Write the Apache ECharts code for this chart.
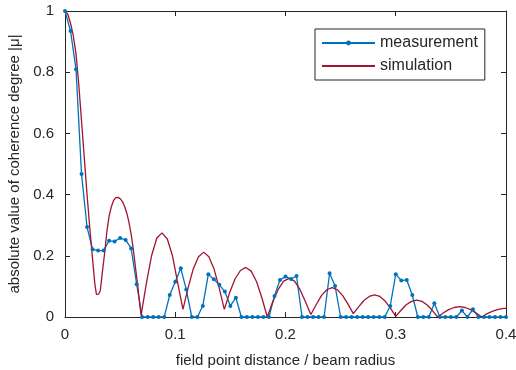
<!DOCTYPE html>
<html>
<head>
<meta charset="utf-8">
<script src="https://cdn.jsdelivr.net/npm/echarts@6/dist/echarts.min.js"></script>
<style>
  html, body { margin: 0; padding: 0; background: #fff; }
  #chart { width: 516px; height: 370px; }
</style>
</head>
<body>
<div id="chart"></div>
<script>
// measurement samples (field point distance / beam radius)
const measX = [
  0, 0.005, 0.01, 0.015, 0.02, 0.025, 0.03, 0.035, 0.04, 0.045,
  0.05, 0.055, 0.06, 0.065, 0.07, 0.075, 0.08, 0.085, 0.09, 0.095,
  0.1, 0.105, 0.11, 0.115, 0.12, 0.125, 0.13, 0.135, 0.14, 0.145,
  0.15, 0.155, 0.16, 0.165, 0.17, 0.175, 0.18, 0.185, 0.19, 0.195,
  0.2, 0.205, 0.21, 0.215, 0.22, 0.225, 0.23, 0.235, 0.24, 0.245,
  0.25, 0.255, 0.26, 0.265, 0.27, 0.275, 0.28, 0.285, 0.29, 0.295,
  0.3, 0.305, 0.31, 0.315, 0.32, 0.325, 0.33, 0.335, 0.34, 0.345,
  0.35, 0.355, 0.36, 0.365, 0.37, 0.375, 0.38, 0.385, 0.39, 0.395,
  0.4
];
const measY = [
  1.0, 0.935, 0.81, 0.467, 0.294, 0.221, 0.217, 0.217, 0.249, 0.247,
  0.258, 0.252, 0.224, 0.107, 0, 0, 0, 0, 0, 0.072,
  0.115, 0.159, 0.09, 0, 0, 0.036, 0.14, 0.123, 0.105, 0.083,
  0.036, 0.063, 0, 0, 0, 0, 0, 0, 0.069, 0.121,
  0.132, 0.124, 0.134, 0, 0, 0, 0, 0, 0.143, 0.101,
  0, 0, 0, 0, 0, 0, 0, 0, 0, 0.036,
  0.14, 0.119, 0.121, 0.072, 0, 0, 0, 0.045, 0, 0,
  0, 0, 0.021, 0, 0.025, 0, 0, 0, 0, 0,
  0
];

// simulated curve
const simX = [
  0, 0.0025, 0.005, 0.0075, 0.01, 0.0125, 0.015, 0.0175, 0.02, 0.0225, 0.025, 0.027, 0.0285, 0.0305, 0.032,
  0.034, 0.036, 0.038, 0.04, 0.042, 0.044, 0.046, 0.048, 0.05, 0.052, 0.054, 0.056, 0.058, 0.06, 0.062, 0.064, 0.066, 0.068, 0.069,
  0.0738, 0.0785, 0.0833, 0.088, 0.0928, 0.0975, 0.1023, 0.107,
  0.1117, 0.1164, 0.1211, 0.1258, 0.1305, 0.1351, 0.1398, 0.1445,
  0.1494, 0.1543, 0.1591, 0.164, 0.1689, 0.1738, 0.1786, 0.1835,
  0.1884, 0.1934, 0.1983, 0.2033, 0.2082, 0.2131, 0.2181, 0.223,
  0.2278, 0.2326, 0.2374, 0.2423, 0.2471, 0.2519, 0.2567, 0.2615,
  0.2663, 0.2711, 0.2759, 0.2808, 0.2856, 0.2904, 0.2952, 0.3,
  0.3048, 0.3095, 0.3143, 0.319, 0.3238, 0.3285, 0.3333, 0.338,
  0.343, 0.348, 0.353, 0.358, 0.363, 0.368, 0.373, 0.378,
  0.383, 0.388, 0.393, 0.398, 0.4
];
const simY = [
  1.0, 0.99, 0.96, 0.92, 0.86, 0.76, 0.64, 0.52, 0.40, 0.29, 0.19, 0.11, 0.074, 0.075, 0.086,
  0.15, 0.21, 0.28, 0.33, 0.36, 0.38, 0.39, 0.391, 0.387, 0.378, 0.362, 0.34, 0.31, 0.27, 0.22, 0.16, 0.1, 0.035, 0.005,
  0.11, 0.2, 0.258, 0.275, 0.255, 0.2, 0.11, 0.025,
  0.096, 0.158, 0.197, 0.212, 0.197, 0.158, 0.096, 0.025,
  0.08, 0.125, 0.152, 0.162, 0.15, 0.115, 0.062, 0.0,
  0.05, 0.09, 0.117, 0.126, 0.117, 0.09, 0.05, 0.008,
  0.04, 0.07, 0.089, 0.096, 0.089, 0.07, 0.042, 0.011,
  0.033, 0.054, 0.067, 0.072, 0.067, 0.052, 0.029, 0.002,
  0.022, 0.04, 0.051, 0.055, 0.051, 0.039, 0.021, 0.0,
  0.013, 0.024, 0.031, 0.034, 0.031, 0.024, 0.013, 0.0,
  0.011, 0.019, 0.025, 0.028, 0.028
];

const xTicks = ["0", "0.1", "0.2", "0.3", "0.4"];
const yTicks = ["0", "0.2", "0.4", "0.6", "0.8", "1"];

const axisColor = "#262626";
const font = "'Liberation Sans', Arial, sans-serif";

const chart = echarts.init(document.getElementById("chart"), null, { renderer: "canvas" });

const baseAxis = {
  axisLine: { show: true, onZero: false, lineStyle: { color: axisColor, width: 1 } },
  axisTick: { show: true, inside: true, length: 5, lineStyle: { color: axisColor } },
  splitLine: { show: false },
};

chart.setOption({
  animation: false,
  backgroundColor: "#fff",
  grid: { left: 65, right: 10, top: 11, bottom: 53, containLabel: false, outerBoundsMode: "none" },
  legend: {
    left: 315,
    top: 29,
    orient: "vertical",
    itemWidth: 53,
    itemHeight: 6,
    itemGap: 5,
    padding: [5, 7, 5, 6],
    borderColor: axisColor,
    borderWidth: 1,
    borderRadius: 0,
    backgroundColor: "#fff",
    textStyle: { fontFamily: font, fontSize: 16, color: axisColor, lineHeight: 18 },
    data: [
      { name: "measurement" },
      { name: "simulation", itemStyle: { opacity: 0 } },
    ],
  },
  xAxis: [
    {
      ...baseAxis,
      type: "value",
      min: 0,
      max: 0.4,
      interval: 0.1,
      name: "field point distance / beam radius",
      nameLocation: "middle",
      nameGap: 36,
      nameTextStyle: { fontFamily: font, fontSize: 15, color: axisColor },
      axisLabel: {
        fontFamily: font, fontSize: 15, color: axisColor, margin: 10,
        formatter: (v) => xTicks[Math.round(v * 10)],
      },
    },
    {
      ...baseAxis,
      type: "value",
      position: "top",
      min: 0,
      max: 0.4,
      interval: 0.1,
      axisLabel: { show: false },
    },
  ],
  yAxis: [
    {
      ...baseAxis,
      type: "value",
      min: 0,
      max: 1,
      interval: 0.2,
      name: "absolute value of coherence degree |\u03bc|",
      nameLocation: "middle",
      nameGap: 38,
      nameTextStyle: { fontFamily: font, fontSize: 15, color: axisColor },
      axisLabel: {
        fontFamily: font, fontSize: 15, color: axisColor, margin: 11,
        formatter: (v) => yTicks[Math.round(v * 5)],
      },
    },
    {
      ...baseAxis,
      type: "value",
      position: "right",
      min: 0,
      max: 1,
      interval: 0.2,
      axisLabel: { show: false },
    },
  ],
  series: [
    {
      name: "measurement",
      type: "line",
      data: measX.map((x, i) => [x, measY[i]]),
      symbol: "circle",
      symbolSize: 4,
      showAllSymbol: true,
      lineStyle: { color: "#0072BD", width: 1.3 },
      itemStyle: { color: "#0072BD" },
    },
    {
      name: "simulation",
      type: "line",
      data: simX.map((x, i) => [x, simY[i]]),
      symbol: "none",
      smooth: false,
      lineStyle: { color: "#A2142F", width: 1.3 },
      itemStyle: { color: "#A2142F" },
    },
  ],
});
</script>
</body>
</html>
